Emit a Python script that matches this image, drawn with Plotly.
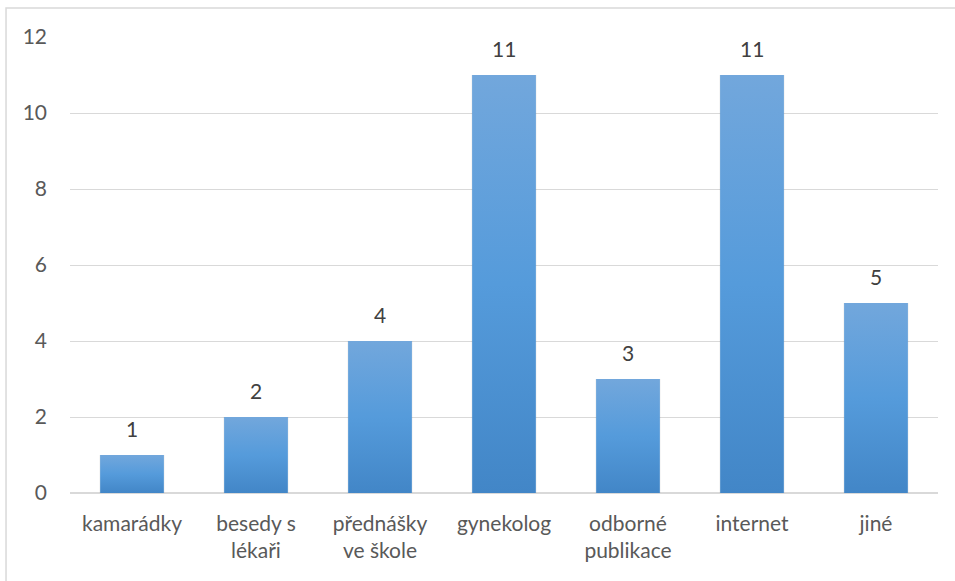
import plotly.graph_objects as go

# Sources of information (counts of respondents)
categories = ["kamarádky", "besedy s<br>lékaři", "přednášky<br>ve škole", "gynekolog",
              "odborné<br>publikace", "internet", "jiné"]
values = [1, 2, 4, 11, 3, 11, 5]
y_ticks = [0, 2, 4, 6, 8, 10, 12]

FONT = "Lato, 'Open Sans', sans-serif"
FS = 21
BAR_W = 0.51
TOP_C, MID_C, BOT_C = "#72a7dc", "#559bdb", "#4286c7"

fig = go.Figure()

# soft drop shadow behind the bars
fig.add_trace(go.Bar(
    x=list(range(len(values))), y=values, width=BAR_W + 0.012,
    marker=dict(color="rgba(0,0,0,0.10)", line=dict(width=0)),
    hoverinfo="skip", showlegend=False, offset=-(BAR_W / 2) - 0.006,
))

# the bars themselves
fig.add_trace(go.Bar(
    x=list(range(len(values))), y=values, width=BAR_W,
    marker=dict(color=MID_C, line=dict(width=0)),
    showlegend=False,
))

# vertical gradient fill laid over each bar, light at the top, dark at the base
for i, v in enumerate(values):
    x0, x1 = i - BAR_W / 2, i + BAR_W / 2
    fig.add_trace(go.Scatter(
        x=[x0, x1, x1, x0, x0], y=[0, 0, v, v, 0],
        mode="lines", line=dict(width=0), fill="toself",
        fillgradient=dict(type="vertical", start=0, stop=v,
                          colorscale=[[0, BOT_C], [0.5, MID_C], [1, TOP_C]]),
        hoverinfo="skip", showlegend=False,
    ))

# value labels above the bars
for i, v in enumerate(values):
    fig.add_annotation(x=i, y=v, text=str(v), showarrow=False,
                       yanchor="bottom", yshift=12,
                       font=dict(family=FONT, size=FS, color="#404040"))

# chart frame
fig.add_shape(type="rect", xref="paper", yref="paper",
              x0=-0.0737, x1=1.05, y0=-0.25, y1=1.0636,
              line=dict(color="#d9d9d9", width=1.5), layer="below")

fig.update_layout(
    width=955, height=581,
    margin=dict(l=70, r=17, t=37, b=88),
    paper_bgcolor="white", plot_bgcolor="white",
    bargap=0.49, barmode="overlay",
    font=dict(family=FONT, size=FS, color="#595959"),
    xaxis=dict(
        range=[-0.5, len(values) - 0.5],
        tickmode="array", tickvals=list(range(len(values))), ticktext=categories,
        showgrid=False, zeroline=False, showline=False, ticks="",
        ticklabelstandoff=16, tickfont=dict(size=FS, color="#595959"),
    ),
    yaxis=dict(
        range=[0, 12], tickmode="array", tickvals=y_ticks,
        showgrid=True, gridcolor="#d9d9d9", gridwidth=1.3,
        zeroline=True, zerolinecolor="#d9d9d9", zerolinewidth=1.5,
        showline=False, ticks="", ticklabelstandoff=22,
        tickfont=dict(size=FS, color="#595959"),
    ),
)

fig.write_html("out.html")
